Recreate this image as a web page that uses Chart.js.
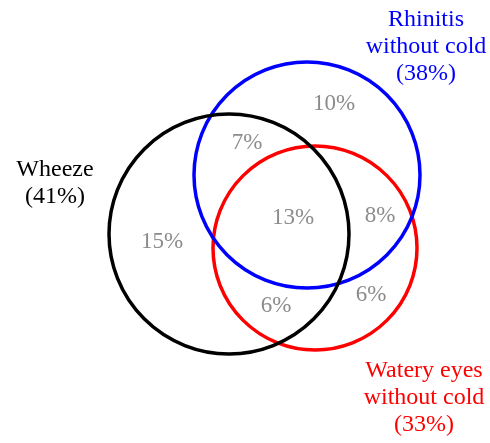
<!DOCTYPE html>
<html>
<head>
<meta charset="utf-8">
<script src="https://cdn.jsdelivr.net/npm/chart.js@4"></script>
<style>
  html, body { margin: 0; padding: 0; background: #fff; }
  #wrap { width: 490px; height: 443px; }
</style>
</head>
<body>
<div id="wrap"><canvas id="venn" width="490" height="443"></canvas></div>
<script>
// sets (circles) and their overall share
const setNames = [["Wheeze"], ["Rhinitis", "without cold"], ["Watery eyes", "without cold"]];
const setPct = [41, 38, 33];
const setColors = ["#000000", "#0000ff", "#ff0000"];

// circle layout in plot units
const circleX = [229, 307, 315];
const circleY = [234, 175, 248];
const circleR = [120, 113, 102];

// set title positions
const titleX = [55, 426, 424];
const titleY = [170, 20, 371];

// region shares: W only, R only, E only, W+R, W+E, R+E, all
const regionPct = [15, 10, 6, 7, 6, 8, 13];
const regionX = [162, 334, 371, 247, 276, 380, 293];
const regionY = [242, 104, 295, 143, 306, 216, 218];

const NUM_FONT = "23px 'Liberation Serif', 'Times New Roman', serif";
const TITLE_FONT = "24px 'Liberation Serif', 'Times New Roman', serif";
const LINE_H = 27;

const textPlugin = {
  id: "vennText",
  afterDatasetsDraw(chart) {
    const { ctx, scales } = chart;
    ctx.save();
    ctx.textAlign = "center";
    ctx.textBaseline = "middle";

    // region numbers
    ctx.font = NUM_FONT;
    ctx.fillStyle = "#8c8c8c";
    regionPct.forEach((v, i) => {
      ctx.fillText(v + "%", scales.x.getPixelForValue(regionX[i]), scales.y.getPixelForValue(regionY[i]));
    });

    // set titles
    ctx.font = TITLE_FONT;
    setNames.forEach((lines, i) => {
      ctx.fillStyle = setColors[i];
      const all = lines.concat(["(" + setPct[i] + "%)"]);
      all.forEach((t, j) => {
        ctx.fillText(t, scales.x.getPixelForValue(titleX[i]), scales.y.getPixelForValue(titleY[i] + j * LINE_H));
      });
    });
    ctx.restore();
  }
};

// radius in plot units -> pixels via the x scale
function pxRadius(c) {
  const i = c.datasetIndex;
  const sx = c.chart.scales.x;
  if (!sx) return 0;
  return Math.abs(sx.getPixelForValue(circleX[i] + circleR[i]) - sx.getPixelForValue(circleX[i]));
}

new Chart(document.getElementById("venn"), {
  type: "scatter",
  data: {
    datasets: setNames.map((n, i) => ({
      label: n.join(" "),
      data: [{ x: circleX[i], y: circleY[i] }],
      pointRadius: pxRadius,
      pointHoverRadius: pxRadius,
      pointBackgroundColor: "rgba(0,0,0,0)",
      pointBorderColor: setColors[i],
      pointBorderWidth: 3.5,
      pointHoverBorderWidth: 3.5
    }))
  },
  options: {
    responsive: false,
    animation: false,
    events: [],
    layout: { padding: 0 },
    plugins: { legend: { display: false }, tooltip: { enabled: false } },
    scales: {
      x: { type: "linear", min: 0, max: 490, display: false },
      y: { type: "linear", min: 0, max: 443, reverse: true, display: false }
    }
  },
  plugins: [textPlugin]
});
</script>
</body>
</html>
